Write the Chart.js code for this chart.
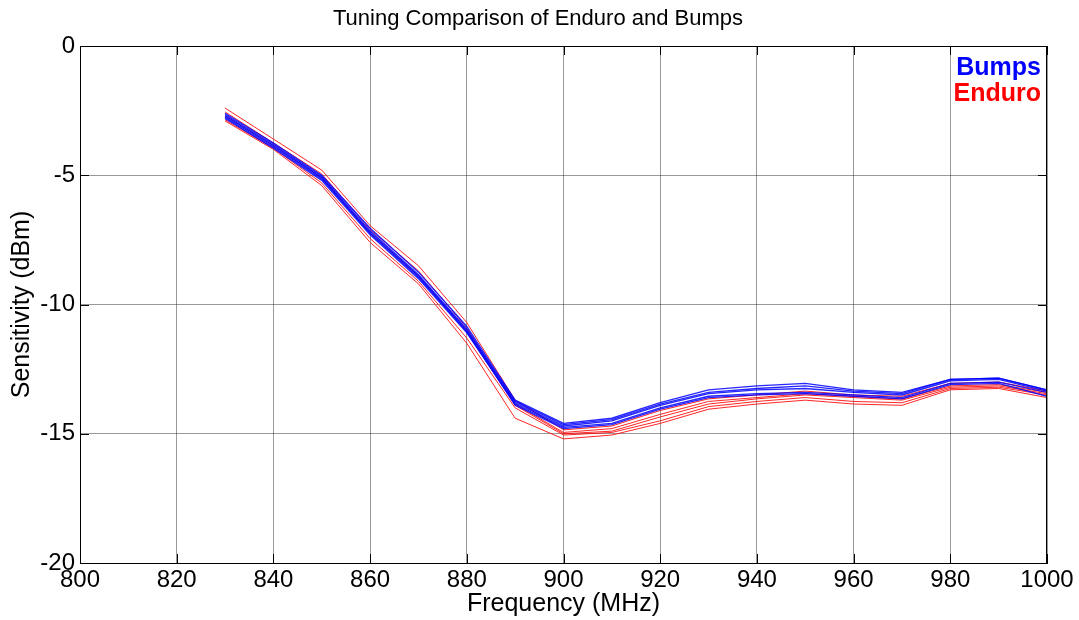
<!DOCTYPE html>
<html>
<head>
<meta charset="utf-8">
<script src="https://cdn.jsdelivr.net/npm/chart.js@4"></script>
<style>
  html, body { margin: 0; padding: 0; background: #fff; }
  #wrap { width: 1079px; height: 620px; }
</style>
</head>
<body>
<div id="wrap"><canvas id="chart" width="1079" height="620"></canvas></div>
<script>
const freqs = [830, 840, 850, 860, 870, 880, 890, 900, 910, 920, 930, 940, 950, 960, 970, 980, 990, 1000];

// Bumps runs (blue)
const bumps1 = [-2.6, -3.75, -5.0, -7.05, -8.75, -10.85, -13.7, -14.6, -14.4, -13.8, -13.3, -13.15, -13.05, -13.3, -13.4, -12.9, -12.85, -13.3];
const bumps2 = [-2.7, -3.85, -5.1, -7.2, -8.9, -11.0, -13.8, -14.7, -14.5, -13.9, -13.45, -13.3, -13.25, -13.4, -13.5, -12.95, -12.9, -13.35];
const bumps3 = [-2.8, -3.95, -5.2, -7.3, -9.0, -11.1, -13.85, -14.75, -14.6, -14.0, -13.55, -13.45, -13.4, -13.5, -13.6, -13.05, -13.0, -13.4];
const bumps4 = [-2.65, -3.8, -5.05, -7.15, -8.85, -10.95, -13.75, -14.65, -14.45, -13.85, -13.4, -13.25, -13.15, -13.35, -13.45, -12.9, -12.85, -13.3];
const bumps5 = [-2.75, -3.9, -5.15, -7.25, -8.95, -11.05, -13.9, -14.8, -14.65, -14.05, -13.6, -13.5, -13.45, -13.55, -13.65, -13.1, -13.05, -13.55];

// Enduro runs (red)
const enduro1 = [-2.4, -3.6, -4.8, -6.95, -8.5, -10.7, -13.7, -14.85, -14.7, -14.1, -13.65, -13.5, -13.35, -13.5, -13.55, -13.05, -13.0, -13.35];
const enduro2 = [-2.55, -3.75, -4.95, -7.1, -8.7, -10.9, -13.85, -14.95, -14.8, -14.25, -13.75, -13.6, -13.45, -13.55, -13.65, -13.15, -13.1, -13.4];
const enduro3 = [-2.7, -3.85, -5.1, -7.25, -8.9, -11.05, -13.9, -15.0, -14.9, -14.35, -13.85, -13.65, -13.5, -13.6, -13.7, -13.2, -13.15, -13.45];
const enduro4 = [-2.85, -3.95, -5.3, -7.45, -9.1, -11.3, -14.0, -15.05, -14.95, -14.5, -13.95, -13.75, -13.6, -13.75, -13.8, -13.25, -13.2, -13.5];
const enduro5 = [-2.9, -4.0, -5.4, -7.6, -9.2, -11.5, -14.4, -15.2, -15.05, -14.6, -14.05, -13.85, -13.7, -13.85, -13.9, -13.3, -13.25, -13.6];

const xTicks = [800, 820, 840, 860, 880, 900, 920, 940, 960, 980, 1000];
const yTicks = [-20, -15, -10, -5, 0];

const bumpsRuns = [bumps1, bumps2, bumps3, bumps4, bumps5];
const enduroRuns = [enduro1, enduro2, enduro3, enduro4, enduro5];

const FONT = 'Arial, "Liberation Sans", sans-serif';

function toPoints(vals) {
  return vals.map((v, i) => ({ x: freqs[i], y: v }));
}

const datasets = [];
bumpsRuns.forEach((run, i) => {
  datasets.push({
    label: 'Bumps ' + (i + 1),
    data: toPoints(run),
    borderColor: 'rgba(0,0,255,0.85)',
    borderWidth: 1.3,
    pointRadius: 0,
    tension: 0,
  });
});
enduroRuns.forEach((run, i) => {
  datasets.push({
    label: 'Enduro ' + (i + 1),
    data: toPoints(run),
    borderColor: 'rgba(255,0,0,0.85)',
    borderWidth: 1,
    pointRadius: 0,
    tension: 0,
  });
});

// title, box, inward ticks and the text legend, matlab style
const decor = {
  id: 'decor',
  afterDatasetsDraw(chart) {
    const { ctx, chartArea: a, scales } = chart;
    ctx.save();
    ctx.strokeStyle = '#000';
    ctx.lineWidth = 1;
    ctx.strokeRect(a.left + 0.5, a.top + 0.5, a.right - a.left - 1, a.bottom - a.top);
    ctx.beginPath();
    xTicks.forEach(t => {
      const x = Math.round(scales.x.getPixelForValue(t)) + 0.5;
      ctx.moveTo(x, a.bottom); ctx.lineTo(x, a.bottom - 9);
      ctx.moveTo(x, a.top); ctx.lineTo(x, a.top + 9);
    });
    yTicks.forEach(t => {
      const y = Math.round(scales.y.getPixelForValue(t)) + 0.5;
      ctx.moveTo(a.left, y); ctx.lineTo(a.left + 9, y);
      ctx.moveTo(a.right, y); ctx.lineTo(a.right - 9, y);
    });
    ctx.stroke();

    ctx.fillStyle = '#000';
    ctx.font = '22px ' + FONT;
    ctx.textAlign = 'center';
    ctx.textBaseline = 'middle';
    ctx.fillText('Tuning Comparison of Enduro and Bumps', 538, 19);

    ctx.font = 'bold 25px ' + FONT;
    ctx.textAlign = 'right';
    ctx.fillStyle = '#0000ff';
    ctx.fillText('Bumps', 1041, 68);
    ctx.fillStyle = '#ff0000';
    ctx.fillText('Enduro', 1041, 94);
    ctx.restore();
  }
};

new Chart(document.getElementById('chart'), {
  type: 'line',
  data: { datasets },
  plugins: [decor],
  options: {
    responsive: false,
    animation: false,
    layout: { padding: { top: 46, right: 32, left: 0, bottom: 0 } },
    plugins: { legend: { display: false }, tooltip: { enabled: false } },
    scales: {
      x: {
        type: 'linear',
        min: 800,
        max: 1000,
        afterFit: s => { s.height = 57; },
        afterBuildTicks: s => { s.ticks = xTicks.map(v => ({ value: v })); },
        grid: { color: 'rgba(0,0,0,0.4)', drawTicks: false },
        border: { color: '#000' },
        ticks: { color: '#000', font: { family: FONT, size: 24 }, padding: 3, maxRotation: 0, callback: v => String(v) },
        title: { display: true, text: 'Frequency (MHz)', color: '#000', font: { family: FONT, size: 25 }, padding: { top: 0, bottom: 1 } },
      },
      y: {
        min: -20,
        max: 0,
        afterFit: s => { s.width = 80; },
        afterBuildTicks: s => { s.ticks = yTicks.map(v => ({ value: v })); },
        grid: { color: 'rgba(0,0,0,0.4)', drawTicks: false },
        border: { color: '#000' },
        ticks: { color: '#000', font: { family: FONT, size: 24 }, padding: 5, callback: v => String(v) },
        title: { display: true, text: 'Sensitivity (dBm)', color: '#000', font: { family: FONT, size: 25 }, padding: { top: 7, bottom: 0 } },
      },
    },
  },
});
</script>
</body>
</html>
